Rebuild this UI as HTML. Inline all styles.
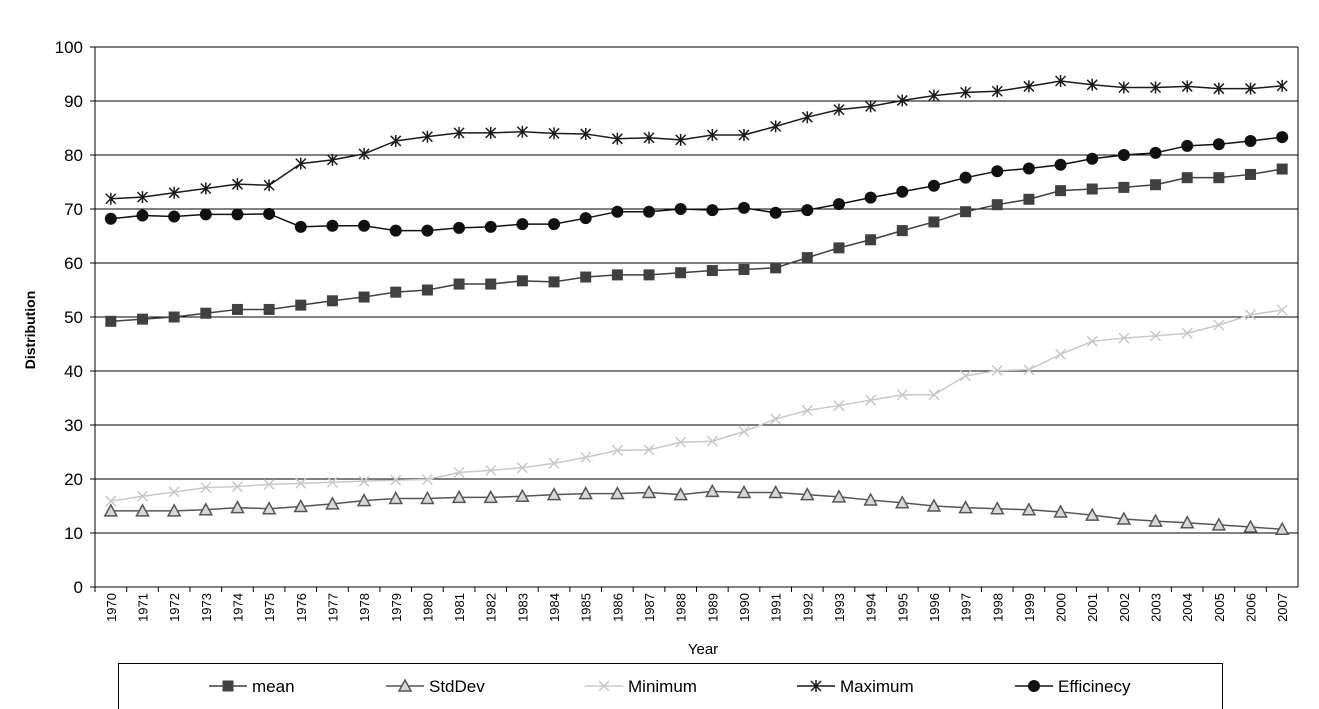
<!DOCTYPE html>
<html><head><meta charset="utf-8"><style>
html,body{margin:0;padding:0;background:#fff;}
svg{display:block;font-family:"Liberation Sans",Arial,sans-serif;}
</style></head><body>
<svg id="chart" width="1319" height="709" viewBox="0 0 1319 709"></svg>
<script>
const years=[1970,1971,1972,1973,1974,1975,1976,1977,1978,1979,1980,1981,1982,1983,1984,1985,1986,1987,1988,1989,1990,1991,1992,1993,1994,1995,1996,1997,1998,1999,2000,2001,2002,2003,2004,2005,2006,2007];
const meanVals=[49.2,49.6,50,50.7,51.4,51.4,52.2,53,53.7,54.6,55,56.1,56.1,56.7,56.5,57.4,57.8,57.8,58.2,58.6,58.8,59.1,61,62.8,64.3,66,67.6,69.5,70.8,71.8,73.4,73.7,74,74.5,75.8,75.8,76.4,77.4];
const stdVals=[14.1,14.1,14.1,14.3,14.7,14.5,14.9,15.4,16,16.4,16.4,16.6,16.6,16.8,17.1,17.3,17.3,17.5,17.1,17.7,17.5,17.5,17.1,16.7,16.1,15.6,15,14.7,14.5,14.3,13.9,13.3,12.6,12.2,11.9,11.5,11.1,10.7];
const minVals=[15.9,16.8,17.6,18.4,18.6,19,19.2,19.4,19.6,19.8,19.9,21.2,21.6,22.1,22.9,24,25.3,25.4,26.8,27,28.8,31.1,32.7,33.6,34.6,35.6,35.6,39.1,40.1,40.2,43.1,45.5,46.1,46.5,47,48.5,50.4,51.3];
const maxVals=[71.9,72.2,73,73.8,74.6,74.4,78.4,79.1,80.2,82.6,83.4,84.1,84.1,84.3,84,83.9,83,83.2,82.8,83.7,83.7,85.3,87,88.4,89,90.1,91,91.6,91.8,92.7,93.7,93,92.5,92.5,92.7,92.3,92.3,92.8];
const effVals=[68.2,68.8,68.6,69,69,69.1,66.7,66.9,66.9,66,66,66.5,66.7,67.2,67.2,68.3,69.5,69.5,70,69.8,70.2,69.3,69.8,70.9,72.1,73.2,74.3,75.8,77,77.5,78.2,79.3,80,80.4,81.7,82,82.6,83.3];
const yTicks=[0,10,20,30,40,50,60,70,80,90,100];

const NS="http://www.w3.org/2000/svg";
const svg=document.getElementById('chart');
const L=95,R=1298,T=47,B=587;
const step=(R-L)/years.length;
const x=i=>L+step*(i+0.5);
const y=v=>B-(v/100)*(B-T);
function mk(tag,attrs,parent){const e=document.createElementNS(NS,tag);for(const k in attrs)e.setAttribute(k,attrs[k]);(parent||svg).appendChild(e);return e;}

yTicks.forEach(t=>{
  const g=mk('line',{x1:L,x2:R,y1:y(t),y2:y(t),stroke:'#000','stroke-width':1});
  
  
  mk('line',{x1:L-5,x2:L,y1:y(t),y2:y(t),stroke:'#000'});
  const tx=mk('text',{x:L-12,y:y(t)+6,'text-anchor':'end','font-size':17});
  tx.textContent=t;
  
  
});
mk('line',{x1:L,x2:L,y1:T,y2:B,stroke:'#000'});
mk('line',{x1:R,x2:R,y1:T,y2:B,stroke:'#000'});
years.forEach((yr,i)=>{
  mk('line',{x1:L+step*i,x2:L+step*i,y1:B,y2:B+5,stroke:'#000'});
  const tx=mk('text',{transform:`translate(${x(i)+5},${B+6}) rotate(-90)`,'text-anchor':'end','font-size':13});
  tx.textContent=yr;
  
  
});
const xt=mk('text',{x:703,y:654,'text-anchor':'middle','font-size':15});xt.textContent='Year';


const yt=mk('text',{transform:'translate(35,330) rotate(-90)','text-anchor':'middle','font-size':14,'font-weight':'bold'});yt.textContent='Distribution';



function marker(type,cx,cy,color,g){
  if(type==='square')mk('rect',{x:cx-5.5,y:cy-5.5,width:11,height:11,fill:color},g);
  else if(type==='tri')mk('polygon',{points:`${cx},${cy-6} ${cx-6},${cy+5} ${cx+6},${cy+5}`,fill:'#d8d8d8',stroke:color,'stroke-width':1.5},g);
  else if(type==='x'){mk('path',{d:`M${cx-5},${cy-5}L${cx+5},${cy+5}M${cx-5},${cy+5}L${cx+5},${cy-5}`,stroke:color,'stroke-width':1.5},g);}
  else if(type==='star'){mk('path',{d:`M${cx-5},${cy-5}L${cx+5},${cy+5}M${cx-5},${cy+5}L${cx+5},${cy-5}M${cx},${cy-6}L${cx},${cy+6}`,stroke:color,'stroke-width':1.5},g);}
  else if(type==='circle')mk('circle',{cx:cx,cy:cy,r:6,fill:color},g);
}
const series=[
  {name:'mean',vals:meanVals,color:'#404040',m:'square'},
  {name:'StdDev',vals:stdVals,color:'#555',m:'tri'},
  {name:'Minimum',vals:minVals,color:'#c8c8c8',m:'x'},
  {name:'Maximum',vals:maxVals,color:'#1a1a1a',m:'star'},
  {name:'Efficinecy',vals:effVals,color:'#111',m:'circle'}
];
series.forEach(s=>{
  const g=mk('g',{});
  
  
  mk('polyline',{points:s.vals.map((v,i)=>x(i)+','+y(v)).join(' '),fill:'none',stroke:s.color,'stroke-width':1.5},g);
  s.vals.forEach((v,i)=>marker(s.m,x(i),y(v),s.color,g));
});
const lg=mk('g',{});


mk('rect',{x:118.5,y:663.5,width:1104,height:60,fill:'#fff',stroke:'#000'},lg);
const lx=[209,386,585,797,1015];
series.forEach((s,i)=>{
  const e=mk('g',{},lg);
  
  
  mk('line',{x1:lx[i],x2:lx[i]+38,y1:686,y2:686,stroke:s.color,'stroke-width':1.5},e);
  marker(s.m,lx[i]+19,686,s.color,e);
  const t=mk('text',{x:lx[i]+43,y:692,'font-size':17},e);t.textContent=s.name;
});
</script>
</body></html>
